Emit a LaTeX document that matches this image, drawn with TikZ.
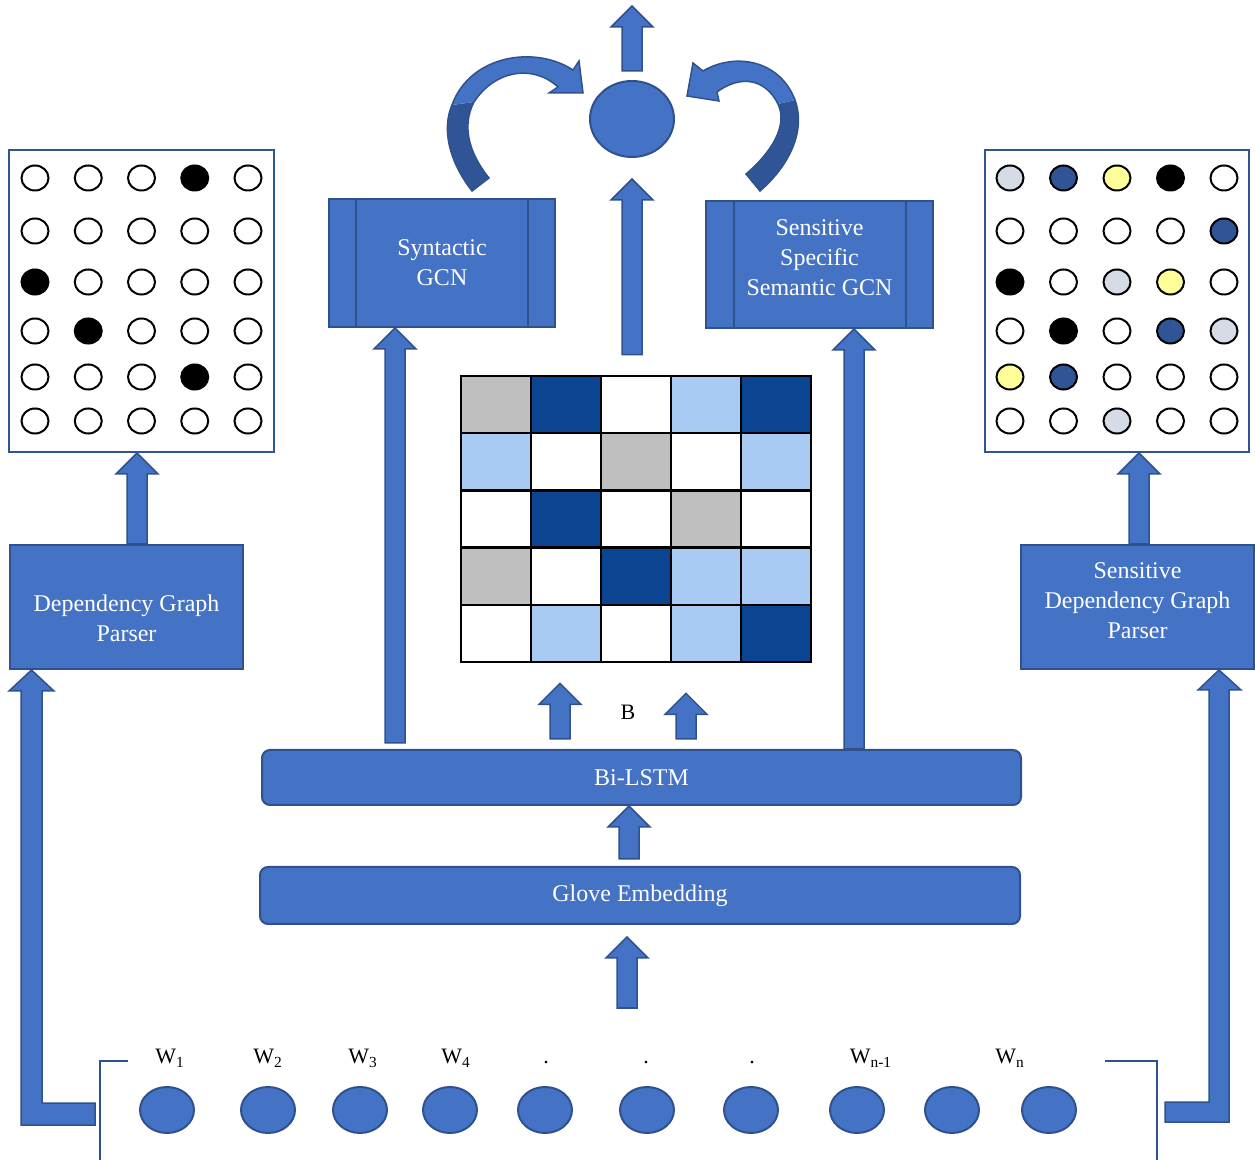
\documentclass[tikz,border=0pt]{standalone}
\usepackage{fontspec}
\setmainfont{Liberation Serif}
\usetikzlibrary{calc,shapes.geometric}

\definecolor{mainblue}{HTML}{4472C4}
\definecolor{edgeblue}{HTML}{2F528F}
\definecolor{deepblue}{HTML}{2F5597}
% matrix cells
\definecolor{cellD}{HTML}{0B4592}
\definecolor{cellL}{HTML}{A9CBF3}
\definecolor{cellG}{HTML}{BFBFBF}
\definecolor{cellW}{HTML}{FFFFFF}
% graph dots
\definecolor{dotw}{HTML}{FFFFFF}
\definecolor{dotk}{HTML}{000000}
\definecolor{dotg}{HTML}{D6DCE5}
\definecolor{dotb}{HTML}{2F5597}
\definecolor{doty}{HTML}{FFFF99}

\tikzset{
  blk/.style={fill=mainblue, draw=edgeblue, line width=0.75pt, line join=miter},
  boxnode/.style={rectangle, fill=mainblue, draw=edgeblue, line width=1pt, text=white,
    align=center, font=\fontsize{12}{15}\selectfont, inner sep=0pt},
  layer/.style={boxnode, rounded corners=4pt},
  boxtext/.style={text=white, align=center, font=\fontsize{12}{15}\selectfont, inner sep=0pt},
  dotnode/.style={ellipse, draw=black, line width=1pt, minimum width=13.5pt,
    minimum height=12.5pt, inner sep=0pt},
  wordnode/.style={ellipse, fill=mainblue, draw=edgeblue, line width=1pt,
    minimum width=27pt, minimum height=23pt, inner sep=0pt},
  wlabel/.style={font=\fontsize{11}{13}\selectfont, inner sep=0pt},
}

% upward block arrow: tail (x taken from here) -> tip
\newcommand{\blkup}[2]{%
  \draw[blk] let \p1=(#1), \p2=(#2) in
    (\x1-5pt,\y1) -- (\x1-5pt,\y2-10.5pt) -- (\x1-10.5pt,\y2-10.5pt) -- (\x1,\y2)
    -- (\x1+10.5pt,\y2-10.5pt) -- (\x1+5pt,\y2-10.5pt) -- (\x1+5pt,\y1) -- cycle;}

\begin{document}
\begin{tikzpicture}[x=0.5pt,y=-0.5pt]
    \useasboundingbox (0,0) rectangle (1255,1160);

    % Graph matrices (left: plain, right: sensitive)
    \node[draw=deepblue, line width=1pt, minimum width=132.5pt, minimum height=151pt] (dotsL) at (141.5,301) {};
    \node[draw=deepblue, line width=1pt, minimum width=132pt, minimum height=151pt] (dotsR) at (1117,301) {};

    \foreach \y/\row in {178/{w,w,w,k,w},231/{w,w,w,w,w},282/{k,w,w,w,w},
                         331/{w,k,w,w,w},377/{w,w,w,k,w},421/{w,w,w,w,w}}
      \foreach \c [count=\k] in \row
        \node[dotnode, fill=dot\c] (dl-\y-\k) at ({35+53.25*(\k-1)},\y) {};

    \foreach \y/\row in {178/{g,b,y,k,w},231/{w,w,w,w,b},282/{k,w,g,y,w},
                         331/{w,k,w,b,g},377/{y,b,w,w,w},421/{w,w,g,w,w}}
      \foreach \c [count=\k] in \row
        \node[dotnode, fill=dot\c] (dr-\y-\k) at ({1010+53.5*(\k-1)},\y) {};

    % Parsers
    \node[boxnode, minimum width=116.5pt, minimum height=62pt] (parserL) at (126.5,607) {};
    \node[boxtext] (parserLtxt) at (126.5,618) {Dependency Graph\\Parser};
    \node[boxnode, minimum width=116.5pt, minimum height=62pt] (parserR) at (1137.5,607) {};
    \node[boxtext] (parserRtxt) at (1137.5,601) {Sensitive\\Dependency Graph\\Parser};

    % GCN blocks
    \node[boxnode, minimum width=113pt, minimum height=64pt] (gcnS) at (442,263) {Syntactic\\GCN};
    \node[boxnode, minimum width=113.5pt, minimum height=63.5pt] (gcnM) at (819.5,264.5) {};
    \node[boxtext] (gcnMtxt) at (819.5,258) {Sensitive\\Specific\\Semantic GCN};
    \draw[edgeblue, line width=1pt] ([xshift=14pt]gcnS.north west) -- ([xshift=14pt]gcnS.south west);
    \draw[edgeblue, line width=1pt] ([xshift=-14pt]gcnS.north east) -- ([xshift=-14pt]gcnS.south east);
    \draw[edgeblue, line width=1pt] ([xshift=14.5pt]gcnM.north west) -- ([xshift=14.5pt]gcnM.south west);
    \draw[edgeblue, line width=1pt] ([xshift=-14pt]gcnM.north east) -- ([xshift=-14pt]gcnM.south east);

    % Matrix B
    \node[minimum width=175pt, minimum height=143pt, inner sep=0pt] (grid) at (636,519) {};
    \foreach \row [count=\r] in {{G,D,W,L,D},{L,W,G,W,L},{W,D,W,G,W},{G,W,D,L,L},{W,L,W,L,D}}
      \foreach \c [count=\k] in \row
        \filldraw[fill=cell\c, draw=black, line width=1.2pt]
          ({461+70*(\k-1)},{376+57.2*(\r-1)}) rectangle ++(70,57.2);
    \node[wlabel] (blabel) at (628,712) {B};

    % Encoder layers
    \node[layer, minimum width=379.5pt, minimum height=27.5pt] (bilstm) at (641.5,777.5) {Bi-LSTM};
    \node[layer, minimum width=380pt, minimum height=28.5pt] (glove) at (640,895.5) {Glove Embedding};

    % Output node
    \node[ellipse, fill=mainblue, draw=edgeblue, line width=1pt, minimum width=42pt,
          minimum height=38pt] (topc) at (632,119) {};

    % Input words
    \foreach \x [count=\i] in {167,268,360,450,545,647,751,857,952,1049}
      \node[wordnode] (w\i) at (\x,1110) {};
    \foreach \x/\t [count=\i] in {170/W\textsubscript{1},268/W\textsubscript{2},363/W\textsubscript{3},
        456/W\textsubscript{4},546/.,646/.,752/.,871/W\textsubscript{n-1},1010/W\textsubscript{n}}
      \node[wlabel, anchor=base] (wl\i) at (\x,1064) {\t};

    % brackets round the sentence
    \draw[edgeblue, line width=0.75pt] (128,1061) -- (100,1061) -- (100,1160);
    \draw[edgeblue, line width=0.75pt] (1105,1061) -- (1157,1061) -- (1157,1160);

    % Straight block arrows
    \coordinate (wordsUp) at (627,1008);
    \coordinate (outTop) at (632,6);
    \blkup{wordsUp}{[yshift=-6pt]glove.south}
    \blkup{[xshift=-5.5pt,yshift=3.5pt]glove.north}{bilstm.south}
    \blkup{[xshift=-40.75pt,yshift=5pt]bilstm.north}{[yshift=-10.5pt]grid.south}
    \blkup{[xshift=22.25pt,yshift=5pt]bilstm.north}{[yshift=-15.5pt]grid.south}
    \blkup{[xshift=-123.25pt,yshift=3pt]bilstm.north}{gcnS.south}
    \blkup{[xshift=106.25pt]bilstm.north}{gcnM.south}
    \blkup{[xshift=-2pt,yshift=10.5pt]grid.north}{[yshift=-10.5pt]topc.south}
    \blkup{[yshift=4.5pt]topc.north}{outTop}
    \blkup{[xshift=5.25pt]parserL.north}{dotsL.south}
    \blkup{[xshift=0.75pt]parserR.north}{dotsR.south}

    % L-shaped arrows from the sentence to the parsers
    \coordinate (inL) at (95,1114);
    \coordinate (inR) at (1165,1112);
    \draw[blk] let \p1=(inL), \p2=([xshift=11.25pt]parserL.south west) in
      (\x1,\y1+5.5pt) -- (\x2+5.25pt,\y1+5.5pt) -- (\x2+5.25pt,\y2-10.5pt) -- (\x2+11.25pt,\y2-10.5pt)
      -- (\x2,\y2) -- (\x2-11.25pt,\y2-10.5pt) -- (\x2-5.25pt,\y2-10.5pt) -- (\x2-5.25pt,\y1-5.5pt)
      -- (\x1,\y1-5.5pt) -- cycle;
    \draw[blk] let \p1=(inR), \p2=([xshift=-18pt]parserR.south east) in
      (\x1,\y1+5pt) -- (\x2-5pt,\y1+5pt) -- (\x2-5pt,\y2-10pt) -- (\x2-10.5pt,\y2-10pt)
      -- (\x2,\y2) -- (\x2+11pt,\y2-10pt) -- (\x2+5pt,\y2-10pt) -- (\x2+5pt,\y1-5pt)
      -- (\x1,\y1-5pt) -- cycle;

    % Curved arrow: Syntactic GCN -> output
    \fill[deepblue] (472,191) .. controls (448,160) and (442,128) .. (452,105) -- (474,102)
      .. controls (462,125) and (468,152) .. (489,178) -- cycle;
    \fill[mainblue] (452,105) .. controls (470,55) and (535,45) .. (573,70) -- (579,61) -- (583,93)
      -- (549,93) -- (558,87) .. controls (533,64) and (495,70) .. (474,102) -- cycle;
    \draw[edgeblue, line width=0.75pt, line join=miter] (472,191) .. controls (448,160) and (442,128) .. (452,105)
      .. controls (470,55) and (535,45) .. (573,70) -- (579,61) -- (583,93) -- (549,93) -- (558,87)
      .. controls (533,64) and (495,70) .. (474,102) .. controls (462,125) and (468,152) .. (489,178) -- cycle;

    % Curved arrow: Semantic GCN -> output
    \fill[deepblue] (760,191) .. controls (790,165) and (806,130) .. (795,100) -- (778,104)
      .. controls (788,125) and (772,152) .. (746,174) -- cycle;
    \fill[mainblue] (795,100) .. controls (780,60) and (735,52) .. (703,71) -- (693,63) -- (687,96)
      -- (719,101) -- (717,92) .. controls (740,75) and (765,78) .. (778,104) -- cycle;
    \draw[edgeblue, line width=0.75pt, line join=miter] (760,191) .. controls (790,165) and (806,130) .. (795,100)
      .. controls (780,60) and (735,52) .. (703,71) -- (693,63) -- (687,96) -- (719,101) -- (717,92)
      .. controls (740,75) and (765,78) .. (778,104) .. controls (788,125) and (772,152) .. (746,174) -- cycle;
\end{tikzpicture}
\end{document}
